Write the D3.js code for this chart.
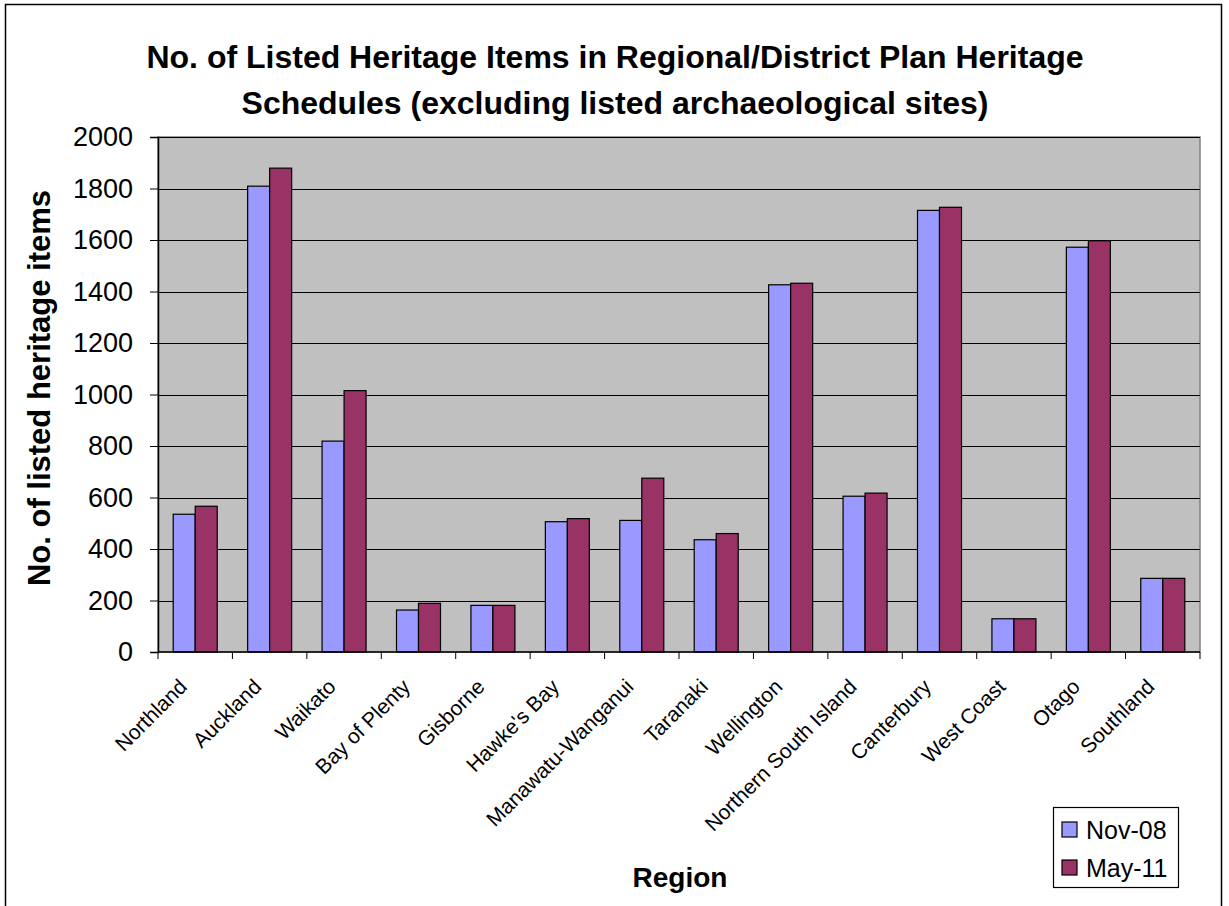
<!DOCTYPE html>
<html>
<head>
<meta charset="utf-8">
<script src="https://cdn.jsdelivr.net/npm/d3@7"></script>
<style>
  body { margin: 0; background: #fff; }
  svg { display: block; font-family: Arial, "Liberation Sans", sans-serif; }
</style>
</head>
<body>
<svg id="chart" width="1229" height="906"></svg>
<script>
// regions along the x axis
const regions = ['Northland', 'Auckland', 'Waikato', 'Bay of Plenty', 'Gisborne', "Hawke's Bay",
    'Manawatu-Wanganui', 'Taranaki', 'Wellington', 'Northern South Island', 'Canterbury',
    'West Coast', 'Otago', 'Southland'];
const seriesNames = ['Nov-08', 'May-11'];
const nov08 = [535, 1809, 819, 163, 181, 506, 511, 436, 1426, 605, 1715, 129, 1572, 286];
const may11 = [566, 1879, 1015, 189, 181, 518, 675, 460, 1432, 617, 1727, 129, 1597, 286];
const yTicks = [0, 200, 400, 600, 800, 1000, 1200, 1400, 1600, 1800, 2000];
const colors = ['#9999FF', '#993366'];

const svg = d3.select('#chart');
const plot = { left: 158, top: 137, right: 1200, bottom: 652 };

// outer frame
svg.append('rect')
    .attr('x', 5.5).attr('y', 4.5)
    .attr('width', 1216).attr('height', 920)
    .attr('fill', '#fff').attr('stroke', '#000').attr('stroke-width', 1.5);

const x = d3.scaleBand().domain(regions).range([plot.left, plot.right]);
const inner = d3.scaleBand().domain(seriesNames)
    .range([0, 44]);
const y = d3.scaleLinear().domain([0, 2000]).range([plot.bottom, plot.top]);

svg.append('rect')
    .attr('x', plot.left).attr('y', plot.top)
    .attr('width', plot.right - plot.left).attr('height', plot.bottom - plot.top)
    .attr('fill', '#C0C0C0')
    .attr('stroke', '#808080').attr('stroke-width', 1.5);

// gridlines
svg.append('g')
    .selectAll('line')
    .data(yTicks.filter(d => d > 0))
    .enter()
    .append('line')
        .attr('x1', plot.left).attr('x2', plot.right)
        .attr('y1', d => Math.round(y(d)) + 0.5).attr('y2', d => Math.round(y(d)) + 0.5)
        .attr('stroke', '#000').attr('stroke-width', 1.2);

// bars
const rows = regions.map((r, i) => ({ region: r, values: [nov08[i], may11[i]] }));
const groups = svg.append('g')
    .selectAll('g')
    .data(rows)
    .enter()
    .append('g')
        .attr('transform', d => `translate(${x(d.region) + (x.bandwidth() - 44) / 2},0)`);
groups.selectAll('rect')
    .data(d => d.values.map((v, k) => ({ key: seriesNames[k], v, k })))
    .enter()
    .append('rect')
        .attr('x', d => inner(d.key))
        .attr('y', d => y(d.v))
        .attr('width', inner.bandwidth())
        .attr('height', d => y(0) - y(d.v))
        .attr('fill', d => colors[d.k])
        .attr('stroke', '#000').attr('stroke-width', 1.2);

// y axis
const yAxis = d3.axisLeft(y).tickValues(yTicks).tickSize(8).tickPadding(17).tickFormat(d3.format('d'));
svg.append('g')
    .attr('transform', `translate(${plot.left},0)`)
    .call(yAxis)
    .call(g => g.select('.domain').attr('stroke', '#000').attr('stroke-width', 1.5))
    .call(g => g.selectAll('.tick line').attr('stroke', '#000'))
    .call(g => g.selectAll('text').attr('font-size', 27).attr('fill', '#000')
        .attr('font-family', 'Arial, "Liberation Sans", sans-serif'));

// x axis with ticks between categories
const xAxisG = svg.append('g').attr('transform', `translate(0,${plot.bottom})`);
xAxisG.append('line')
    .attr('x1', plot.left).attr('x2', plot.right)
    .attr('y1', 0).attr('y2', 0)
    .attr('stroke', '#000').attr('stroke-width', 1.5);
xAxisG.selectAll('.tk')
    .data(d3.range(regions.length + 1))
    .enter()
    .append('line')
        .attr('class', 'tk')
        .attr('x1', i => plot.left + i * x.step()).attr('x2', i => plot.left + i * x.step())
        .attr('y1', 0).attr('y2', 7)
        .attr('stroke', '#000');
xAxisG.selectAll('text')
    .data(regions)
    .enter()
    .append('text')
        .attr('transform', d => `translate(${x(d) + x.bandwidth() / 2 - 7},36) rotate(-45)`)
        .attr('text-anchor', 'end')
        .attr('font-size', 21)
        .text(d => d);

// titles
const title = svg.append('text')
    .attr('x', 615).attr('text-anchor', 'middle')
    .attr('font-size', 32).attr('font-weight', 'bold');
title.append('tspan').attr('x', 615).attr('y', 68)
    .text('No. of Listed Heritage Items in Regional/District Plan Heritage');
title.append('tspan').attr('x', 615).attr('y', 114)
    .text('Schedules (excluding listed archaeological sites)');

svg.append('text')
    .attr('transform', `translate(50,388) rotate(-90)`)
    .attr('text-anchor', 'middle')
    .attr('font-size', 31).attr('font-weight', 'bold')
    .text('No. of listed heritage items');

svg.append('text')
    .attr('x', 680).attr('y', 887)
    .attr('text-anchor', 'middle')
    .attr('font-size', 28).attr('font-weight', 'bold')
    .text('Region');

// legend
const legend = svg.append('g').attr('transform', 'translate(1053,807)');
legend.append('rect')
    .attr('x', 0.5).attr('y', 0.5).attr('width', 125).attr('height', 80)
    .attr('fill', '#fff').attr('stroke', '#000').attr('stroke-width', 1.2);
const items = legend.selectAll('g.item')
    .data(seriesNames)
    .enter()
    .append('g')
        .attr('class', 'item')
        .attr('transform', (d, i) => `translate(9,${15 + i * 38})`);
items.append('rect')
    .attr('width', 15).attr('height', 15)
    .attr('fill', (d, i) => colors[i])
    .attr('stroke', '#000').attr('stroke-width', 1.2);
items.append('text')
    .attr('x', 24).attr('y', 8).attr('dy', '0.35em')
    .attr('font-size', 25)
    .text(d => d);
</script>
</body>
</html>
